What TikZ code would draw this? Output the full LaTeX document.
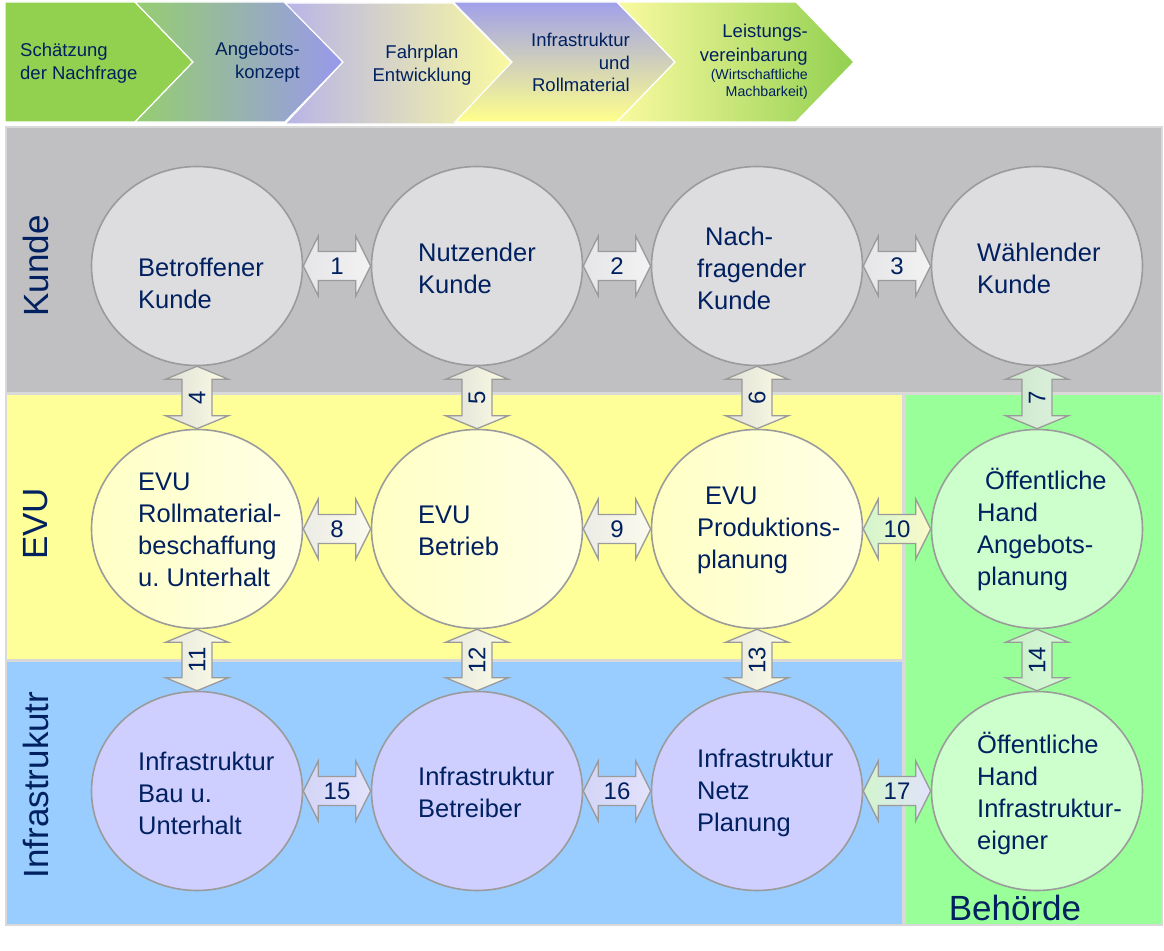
\documentclass[tikz,border=0pt]{standalone}
\usepackage{fontspec}
\setmainfont{Liberation Sans}
\usetikzlibrary{shapes.geometric,calc}
\frenchspacing

\definecolor{navy}{RGB}{0,32,96}
\definecolor{panelgray}{RGB}{192,191,194}
\definecolor{panelyellow}{RGB}{255,255,153}
\definecolor{panelblue}{RGB}{153,204,255}
\definecolor{panelgreen}{RGB}{153,255,153}
\definecolor{paneledge}{RGB}{217,217,217}
\definecolor{circgray}{RGB}{221,220,223}
\definecolor{cyA}{RGB}{255,255,196}
\definecolor{cyB}{RGB}{255,255,232}
\definecolor{circlav}{RGB}{206,206,255}
\definecolor{circgreen}{RGB}{204,255,204}
\definecolor{circedge}{RGB}{155,155,155}
% chevrons
\definecolor{chgreen}{RGB}{146,208,80}
\definecolor{chgreenB}{RGB}{150,206,112}
\definecolor{chblue}{RGB}{152,152,236}
\definecolor{chlav}{RGB}{184,180,232}
\definecolor{chgrey}{RGB}{224,224,222}
\definecolor{chyel}{RGB}{250,250,160}
\definecolor{chpurp}{RGB}{160,160,234}
\definecolor{chmid}{RGB}{222,222,205}
\definecolor{chyelB}{RGB}{255,255,140}
% arrows
\definecolor{agA}{RGB}{230,230,232}
\definecolor{agB}{RGB}{242,242,243}
\definecolor{ayA}{RGB}{224,224,216}
\definecolor{ayB}{RGB}{252,252,228}
\definecolor{acA}{RGB}{236,236,230}
\definecolor{acB}{RGB}{250,250,238}
\definecolor{agrA}{RGB}{205,230,205}
\definecolor{agrB}{RGB}{222,242,222}
\definecolor{alg}{RGB}{210,245,205}
\definecolor{alc}{RGB}{250,250,202}
\definecolor{aiA}{RGB}{232,232,222}
\definecolor{aiB}{RGB}{252,252,232}
\definecolor{agnA}{RGB}{200,240,200}
\definecolor{agnB}{RGB}{216,248,216}
\definecolor{alvA}{RGB}{212,212,246}
\definecolor{alvB}{RGB}{226,226,252}

\newcommand\hconn[4]{%
  \path[blockarrow,#4] let \p1=(#1.east), \p2=(#2.west) in
    (\x1,\y1) -- (\x1+15pt,\y1+30pt) -- (\x1+15pt,\y1+14.5pt) -- (\x2-15pt,\y1+14.5pt)
    -- (\x2-15pt,\y1+30pt) -- (\x2,\y1) -- (\x2-15pt,\y1-30pt) -- (\x2-15pt,\y1-14.5pt)
    -- (\x1+15pt,\y1-14.5pt) -- (\x1+15pt,\y1-30pt) -- cycle;
  \node[numlabel] (l#3) at ($(#1.east)!0.5!(#2.west)$) {#3};
}
\newcommand\vconn[4]{%
  \path[blockarrow,#4] let \p1=(#1.south), \p2=(#2.north) in
    (\x1,\y1) -- (\x1+31.5pt,\y1-13pt) -- (\x1+15pt,\y1-13pt) -- (\x1+15pt,\y2+13pt)
    -- (\x1+31.5pt,\y2+13pt) -- (\x1,\y2) -- (\x1-31.5pt,\y2+13pt) -- (\x1-15pt,\y2+13pt)
    -- (\x1-15pt,\y1-13pt) -- (\x1-31.5pt,\y1-13pt) -- cycle;
  \node[numlabel,rotate=90] (l#3) at ($(#1.south)!0.5!(#2.north)$) {#3};
}

\tikzset{
  circ/.style={ellipse, draw=circedge, line width=1.6pt, minimum width=211pt, minimum height=199pt, inner sep=0pt},
  ctext/.style={anchor=west, align=left, inner sep=0pt, text=navy, font=\fontsize{25.5}{32}\selectfont},
  blockarrow/.style={draw=circedge, line width=1.3pt, line join=miter},
  numlabel/.style={text=navy, inner sep=0pt, font=\fontsize{24}{28}\selectfont},
  lanelabel/.style={text=navy, inner sep=0pt, font=\fontsize{35}{40}\selectfont},
  chev/.style={draw=white, line width=1.2pt},
  chtext/.style={text=navy, inner sep=0pt, font=\fontsize{18.5}{23}\selectfont},
  panel/.style={draw=paneledge, line width=1.8pt},
}

\begin{document}
\begin{tikzpicture}[x=1pt,y=-1pt]
\useasboundingbox (0,0) rectangle (1164,950);
\fill[white] (0,0) rectangle (1164,950);

% ---- chevron band ----
\path[chev, fill=chgreen] (5,2) -- (135,2) -- (193,62) -- (135,122) -- (5,122) -- cycle;
\path[chev, left color=chgreenB, right color=chblue] (135,2) -- (285,2) -- (343,62) -- (285,122) -- (135,122) -- (193,62) -- cycle;
\path[chev, left color=chlav, middle color=chgrey, right color=chyel] (285,3) -- (453,3) -- (512,63) -- (455,124) -- (285,124) -- (343,62) -- cycle;
\path[chev, top color=chpurp, middle color=chmid, bottom color=chyelB] (453,2) -- (617,2) -- (675,62) -- (617,122) -- (455,122) -- (512,62) -- cycle;
\path[chev, left color=chyel, right color=chgreen] (617,2) -- (796,2) -- (854,62) -- (796,122) -- (617,122) -- (675,62) -- cycle;

\node[chtext, anchor=west, align=left] (h1) at (20,63.5) {Schätzung\\der Nachfrage};
\node[chtext, anchor=east, align=right] (h2) at (300,62.5) {Angebots-\\konzept};
\node[chtext, align=center] (h3) at (422,65) {Fahrplan\\Entwicklung};
\node[chtext, anchor=east, align=right, font=\fontsize{18.5}{22.5}\selectfont] (h4) at (630,62.5) {Infrastruktur\\und\\Rollmaterial};
\node[chtext, anchor=east, align=right, font=\fontsize{18.5}{24}\selectfont] (h5) at (808,45) {Leistungs-\\vereinbarung};
\node[chtext, anchor=east, align=right, font=\fontsize{14.2}{17}\selectfont] (h5b) at (808,84.5) {(Wirtschaftliche\hspace{3pt}\\Machbarkeit)};

% ---- panels ----
\path[panel, fill=panelgray] (6,127) rectangle (1162,393);
\path[panel, fill=panelyellow] (6,394) rectangle (903,660);
\path[panel, fill=panelblue] (6,661) rectangle (903,925);
\path[panel, fill=panelgreen] (905,394) rectangle (1162,925);

\node[lanelabel, rotate=90] (lk) at (36,266) {Kunde};
\node[lanelabel, rotate=90] (le) at (36,524) {EVU};
\node[lanelabel, rotate=90] (li) at (36,785) {Infrastrukutr};
\node[lanelabel] (lb) at (1015,908) {Behörde};

% ---- circles ----
\node[circ, fill=circgray] (c11) at (197,266) {};
\node[circ, fill=circgray] (c12) at (477,266) {};
\node[circ, fill=circgray] (c13) at (757,266) {};
\node[circ, fill=circgray] (c14) at (1037,266) {};
\node[circ, left color=cyA, right color=cyB] (c21) at (197,529) {};
\node[circ, left color=cyA, right color=cyB] (c22) at (477,529) {};
\node[circ, left color=cyA, right color=cyB] (c23) at (757,529) {};
\node[circ, fill=circgreen] (c24) at (1037,529) {};
\node[circ, fill=circlav] (c31) at (197,791) {};
\node[circ, fill=circlav] (c32) at (477,791) {};
\node[circ, fill=circlav] (c33) at (757,791) {};
\node[circ, fill=circgreen] (c34) at (1037,791) {};

% ---- connectors ----
\hconn{c11}{c12}{1}{left color=agA, right color=agB}
\hconn{c12}{c13}{2}{left color=agA, right color=agB}
\hconn{c13}{c14}{3}{left color=agA, right color=agB}
\vconn{c11}{c21}{4}{left color=ayA, right color=ayB}
\vconn{c12}{c22}{5}{left color=ayA, right color=ayB}
\vconn{c13}{c23}{6}{left color=ayA, right color=ayB}
\vconn{c14}{c24}{7}{left color=agrA, right color=agrB}
\hconn{c21}{c22}{8}{left color=acA, right color=acB}
\hconn{c22}{c23}{9}{left color=acA, right color=acB}
\hconn{c23}{c24}{10}{left color=alg, right color=alc}
\vconn{c21}{c31}{11}{left color=aiA, right color=aiB}
\vconn{c22}{c32}{12}{left color=aiA, right color=aiB}
\vconn{c23}{c33}{13}{left color=aiA, right color=aiB}
\vconn{c24}{c34}{14}{left color=agnA, right color=agnB}
\hconn{c31}{c32}{15}{left color=alvA, right color=alvB}
\hconn{c32}{c33}{16}{left color=alvA, right color=alvB}
\hconn{c33}{c34}{17}{left color=alg, right color=alvB}

% ---- circle texts ----
\node[ctext] (t11) at ($(c11)+(-59,17)$) {Betroffener\\Kunde};
\node[ctext] (t12) at ($(c12)+(-59,2)$) {Nutzender\\Kunde};
\node[ctext] (t13) at ($(c13)+(-60,2)$) {\hspace*{8pt}Nach-\\fragender\\Kunde};
\node[ctext] (t14) at ($(c14)+(-60,2)$) {Wählender\\Kunde};
\node[ctext] (t21) at ($(c21)+(-59,1)$) {EVU\\Rollmaterial-\\beschaffung\\u. Unterhalt};
\node[ctext] (t22) at ($(c22)+(-59,1.5)$) {EVU\\Betrieb};
\node[ctext] (t23) at ($(c23)+(-60,1)$) {\hspace*{8pt}EVU\\Produktions-\\planung};
\node[ctext] (t24) at ($(c24)+(-60,0)$) {\hspace*{8pt}Öffentliche\\Hand\\Angebots-\\planung};
\node[ctext] (t31) at ($(c31)+(-59,2)$) {Infrastruktur\\Bau u.\\Unterhalt};
\node[ctext] (t32) at ($(c32)+(-59,1.5)$) {Infrastruktur\\Betreiber};
\node[ctext] (t33) at ($(c33)+(-60,2)$) {Infrastruktur\\Netz\\Planung};
\node[ctext] (t34) at ($(c34)+(-60,2)$) {Öffentliche\\Hand\\Infrastruktur-\\eigner};
\end{tikzpicture}
\end{document}
